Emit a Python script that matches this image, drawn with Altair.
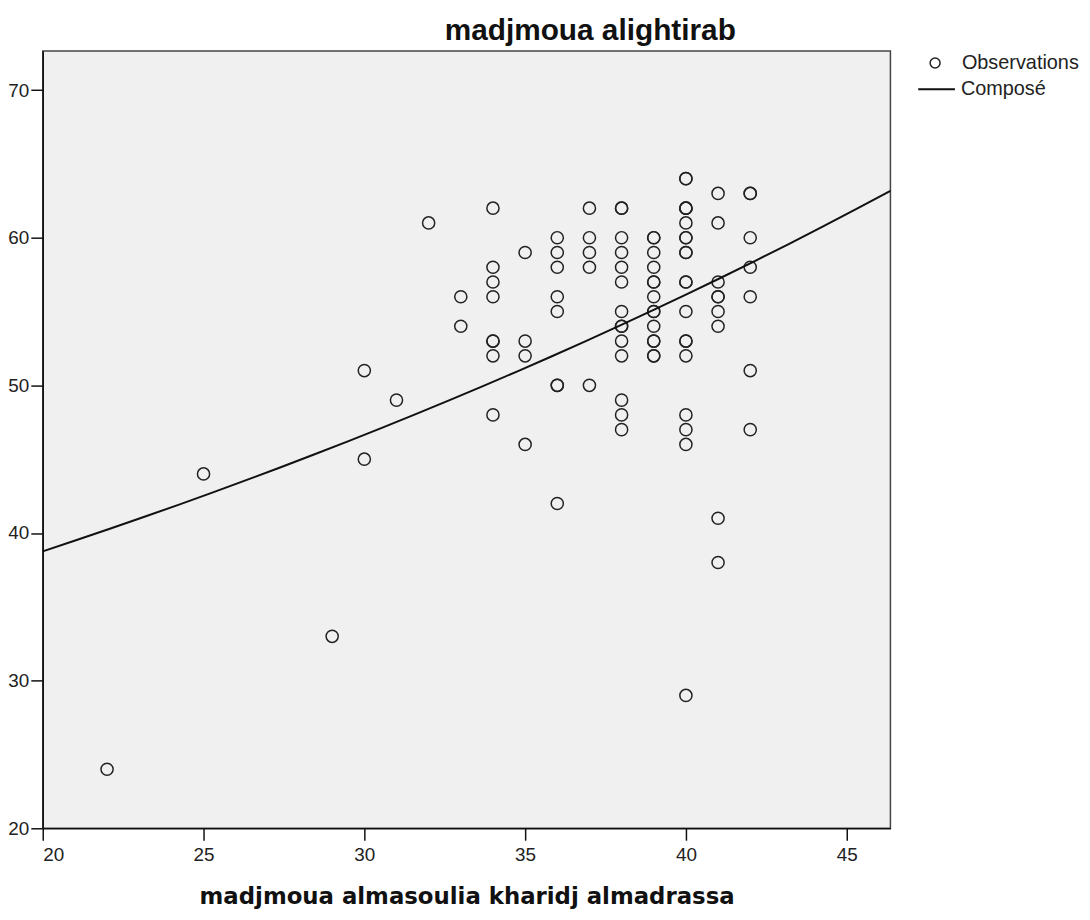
import altair as alt
import pandas as pd

obs_x = (
    [22] + [25] + [29] + [30] * 2 + [31] + [32] + [33] * 2
    + [34] * 8 + [35] * 4 + [36] * 8 + [37] * 5 + [38] * 14
    + [39] * 14 + [40] * 20 + [41] * 9 + [42] * 7
)
obs_y = (
    [24]
    + [44]
    + [33]
    + [51, 45]
    + [49]
    + [61]
    + [56, 54]
    + [62, 58, 57, 56, 53, 53, 52, 48]
    + [59, 53, 52, 46]
    + [60, 59, 58, 56, 55, 50, 50, 42]
    + [62, 60, 59, 58, 50]
    + [62, 62, 60, 59, 58, 57, 55, 54, 54, 53, 52, 49, 48, 47]
    + [60, 60, 59, 58, 57, 57, 56, 55, 55, 54, 53, 53, 52, 52]
    + [64, 64, 62, 62, 62, 61, 60, 60, 59, 59, 57, 57, 55, 53, 53, 52, 48, 47, 46, 29]
    + [63, 61, 57, 56, 56, 55, 54, 41, 38]
    + [63, 63, 60, 58, 56, 51, 47]
)

x_ticks = [20, 25, 30, 35, 40, 45]
y_ticks = [20, 30, 40, 50, 60, 70]
x_domain = [20, 46.36]
y_domain = [20, 72.64]

title_text = "madjmoua alightirab"
x_title = "madjmoua almasoulia kharidj almadrassa"
obs_label = "Observations"
fit_label = "Composé"

df = pd.DataFrame({"x": obs_x, "y": obs_y, "obs": obs_label})

x_enc = alt.X(
    "x:Q",
    scale=alt.Scale(domain=x_domain, nice=False, zero=False),
    axis=alt.Axis(
        values=x_ticks,
        title=x_title,
        titleFont="DejaVu Sans",
        titleFontSize=23,
        titleFontWeight="bold",
        titleColor="#111",
        titlePadding=22,
        labelPadding=5,
    ),
)
y_enc = alt.Y(
    "y:Q",
    scale=alt.Scale(domain=y_domain, nice=False, zero=False),
    axis=alt.Axis(values=y_ticks, title=None, labelPadding=2),
)

base = alt.Chart(df)

points = base.mark_point(
    filled=False, size=150, stroke="#222", strokeWidth=1.5, opacity=1
).encode(
    x=x_enc,
    y=y_enc,
    shape=alt.Shape(
        "obs:N",
        scale=alt.Scale(domain=[obs_label], range=["circle"]),
        legend=alt.Legend(
            title=None,
            orient="none",
            legendX=889,
            legendY=2,
            padding=0,
            symbolSize=100,
            symbolStrokeWidth=1.5,
            symbolStrokeColor="#222",
            symbolFillColor="transparent",
            labelOffset=17,
            labelFont="Liberation Sans",
            labelFontSize=20,
            labelColor="#222",
        ),
    ),
)

# SPSS "Compound" model: ln(y) = ln(b0) + x ln(b1), fitted by least squares
fit = (
    base.transform_calculate(ly="log(datum.y)")
    .transform_regression("x", "ly", method="poly", order=1, extent=x_domain)
    .transform_calculate(y="exp(datum.ly)", fit=f"'{fit_label}'")
    .mark_line(color="#111", strokeWidth=2)
    .encode(
        x="x:Q",
        y="y:Q",
        color=alt.Color(
            "fit:N",
            scale=alt.Scale(domain=[fit_label], range=["#111"]),
            legend=alt.Legend(
                title=None,
                orient="none",
                legendX=881,
                legendY=19,
                padding=0,
                symbolType="stroke",
                symbolSize=1369,
                symbolStrokeWidth=2,
                labelOffset=5,
                labelFont="Liberation Sans",
                labelFontSize=20,
                labelColor="#222",
            ),
        ),
    )
)

chart = (
    alt.layer(points, fit)
    .resolve_legend(color="independent", shape="independent")
    .properties(
        width=854,
        height=783,
        autosize="none",
        padding={"left": 35, "top": 40, "right": 193, "bottom": 89},
        title=alt.TitleParams(
            text=title_text,
            font="Liberation Sans",
            fontSize=30,
            fontWeight="bold",
            color="#111",
            anchor="start",
            frame="group",
            dx=405,
            dy=33,
            offset=14,
            baseline="alphabetic",
        ),
    )
    .configure_view(fill="#f0f0f0", stroke="#444", strokeWidth=1.5)
    .configure_axis(
        grid=False,
        domainColor="#111",
        domainWidth=1.5,
        tickColor="#111",
        tickWidth=1.5,
        tickSize=12,
        labelFont="Liberation Sans",
        labelFontSize=19,
        labelColor="#222",
    )
)

chart.save("out.html", embed_options={"renderer": "svg", "actions": False})
